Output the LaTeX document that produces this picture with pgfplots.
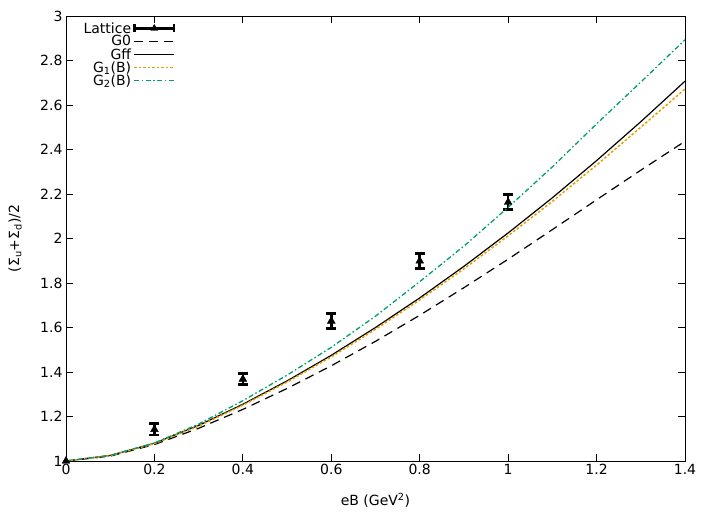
\documentclass[border=0pt]{standalone}
\usepackage{pgfplots}
\usepackage{pgfplotstable}
\pgfplotsset{compat=1.18}
\usepackage{fontspec}
\setmainfont{DejaVu Sans}

\definecolor{gporange}{HTML}{E69F00}
\definecolor{gpgreen}{HTML}{009E73}

% lattice points: eB, value, error
\pgfplotstableread{
x    y      e
0.0  1.000  0.000
0.2  1.142  0.025
0.4  1.368  0.024
0.6  1.629  0.033
0.8  1.899  0.034
1.0  2.163  0.033
}\lattice

% model curves
\pgfplotstableread{
x    gzero  gff    gone   gtwo
0.0  1.000  1.000  1.000  1.000
0.1  1.022  1.025  1.024  1.025
0.2  1.074  1.080  1.078  1.081
0.3  1.147  1.160  1.157  1.166
0.4  1.232  1.255  1.251  1.271
0.5  1.326  1.360  1.355  1.386
0.6  1.428  1.475  1.468  1.511
0.7  1.538  1.600  1.592  1.651
0.8  1.655  1.733  1.724  1.806
0.9  1.779  1.875  1.864  1.966
1.0  1.907  2.025  2.012  2.140
1.1  2.040  2.183  2.167  2.322
1.2  2.174  2.350  2.330  2.515
1.3  2.307  2.525  2.500  2.703
1.4  2.437  2.707  2.672  2.893
}\curves

\newcommand{\gpfont}{\fontsize{14pt}{16pt}\selectfont}

\begin{document}
\begin{tikzpicture}
\useasboundingbox (-66pt,-70pt) rectangle (642pt,461pt);
\begin{axis}[
  at={(0,0)}, anchor=south west,
  scale only axis, width=619pt, height=445pt,
  xmin=0, xmax=1.4, ymin=1, ymax=3,
  xtick={0,0.2,0.4,0.6,0.8,1,1.2,1.4},
  ytick={1,1.2,1.4,1.6,1.8,2,2.2,2.4,2.6,2.8,3},
  tick align=inside, major tick length=7pt,
  tick style={black, line width=0.8pt},
  axis line style={line width=1pt},
  /pgf/number format/assume math mode=true,
  tick label style={font=\gpfont},
  label style={font=\gpfont},
  xlabel={eB (GeV\textsuperscript{2})},
  ylabel={(Σ\textsubscript{u}+Σ\textsubscript{d})/2},
  x label style={at={(axis description cs:0.5,-0.088)}, anchor=center},
  y label style={at={(axis description cs:-0.082,0.5)}, anchor=center},
  legend style={draw=none, fill=none, at={(0.02,0.995)}, anchor=north west,
    font=\gpfont, cells={anchor=east}, row sep=-3pt},
  legend plot pos=right,
  legend image code/.code={
    \draw[#1] (0cm,0cm) -- (1.4cm,0cm);
  },
  every error bar/.append style={line width=2.5pt},
]
\addplot[black, only marks, mark=triangle*, mark size=4.5pt,
  legend image code/.code={
    \draw[black, line width=2.5pt] (0cm,0cm) -- (1.4cm,0cm);
    \draw[black, line width=2.5pt] (0cm,-4pt) -- (0cm,4pt);
    \draw[black, line width=2.5pt] (1.4cm,-4pt) -- (1.4cm,4pt);
    \path[black, mark=triangle*, mark size=4pt] plot coordinates {(0.7cm,0cm)};
  },
  error bars/.cd, y dir=both, y explicit,
  error mark options={rotate=90, mark size=5pt, line width=2.8pt},
  ] table[x=x, y=y, y error=e] {\lattice};
\addlegendentry{Lattice}

\addplot[black, line width=1.2pt, dash pattern=on 9pt off 6pt] table[x=x, y=gzero] {\curves};
\addlegendentry{G0}
\addplot[black, line width=1.2pt] table[x=x, y=gff] {\curves};
\addlegendentry{Gff}
\addplot[gporange, line width=1.5pt, dash pattern=on 2.5pt off 2pt] table[x=x, y=gone] {\curves};
\addlegendentry{G\textsubscript{1}(B)}
\addplot[gpgreen, line width=1.3pt, dash pattern=on 5pt off 2.5pt on 1.5pt off 2.5pt] table[x=x, y=gtwo] {\curves};
\addlegendentry{G\textsubscript{2}(B)}
\end{axis}
\end{tikzpicture}
\end{document}
